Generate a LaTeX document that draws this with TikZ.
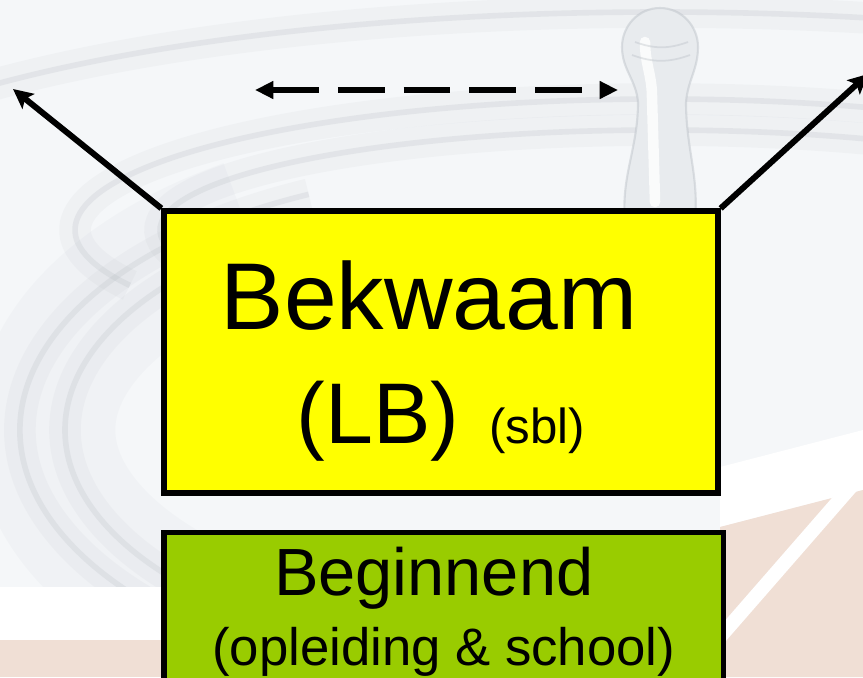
\documentclass[tikz,border=0pt]{standalone}
\usepackage{fontspec}
\setmainfont{Liberation Sans}
\usetikzlibrary{arrows.meta}

\tikzset{
  box/.style={draw=black,line width=1.5pt,inner sep=0pt},
  pointer/.style={draw=black,line width=1.7pt,-{Stealth[length=5.6pt,width=5.4pt,inset=1.2pt]}},
  spanpointer/.style={draw=black,line width=1.9pt,dash pattern=on 13.3pt off 5.4pt,
    {Triangle[length=5.2pt,width=4.8pt]}-{Triangle[length=5.2pt,width=4.8pt]}},
  ripplesoft/.style={draw=ripple,line width=9pt,opacity=0.09},
  ripplecore/.style={draw=ripple,line width=1.6pt,opacity=0.22},
}

\begin{document}
\begin{tikzpicture}[x=1cm,y=1cm]
\definecolor{bgbase}{HTML}{F5F7F9}
\definecolor{ripple}{HTML}{B4BAC1}
\definecolor{peach}{HTML}{F0DFD5}
\definecolor{drop}{HTML}{E8EBEE}
\definecolor{lbyellow}{HTML}{FFFF00}
\definecolor{startgreen}{HTML}{99CC00}
\useasboundingbox (0,0) rectangle (8.63,6.77);
\clip (0,0) rectangle (8.63,6.77);
% backdrop
\fill[bgbase] (0,0) rectangle (8.63,6.77);
\draw[ripple,line width=40pt,opacity=0.07] (5.20,2.47) ++(125:4.75 and 2.45) arc[start angle=125,end angle=225,x radius=4.75,y radius=2.45];
% ripples round the drop
\draw[ripplesoft] (6.60,4.47) ++(0:8.94 and 2.18) arc[start angle=0,end angle=180,x radius=8.94,y radius=2.18];
\draw[ripplecore] (6.60,4.47) ++(0:8.94 and 2.18) arc[start angle=0,end angle=180,x radius=8.94,y radius=2.18];
\draw[ripplesoft] (6.60,4.47) ++(0:5.85 and 1.31) arc[start angle=0,end angle=205,x radius=5.85,y radius=1.31];
\draw[ripplecore] (6.60,4.47) ++(0:5.85 and 1.31) arc[start angle=0,end angle=205,x radius=5.85,y radius=1.31];
\draw[ripplesoft] (6.60,4.47) ++(0:5.00 and 1.00) arc[start angle=0,end angle=195,x radius=5.00,y radius=1.00];
\draw[ripplecore] (6.60,4.47) ++(0:5.00 and 1.00) arc[start angle=0,end angle=195,x radius=5.00,y radius=1.00];
\draw[ripplesoft] (5.20,2.47) ++(115:5.00 and 2.60) arc[start angle=115,end angle=235,x radius=5.00,y radius=2.60];
\draw[ripplecore] (5.20,2.47) ++(115:5.00 and 2.60) arc[start angle=115,end angle=235,x radius=5.00,y radius=2.60];
\draw[ripplesoft] (5.20,2.47) ++(120:4.55 and 2.30) arc[start angle=120,end angle=228,x radius=4.55,y radius=2.30];
\draw[ripplecore] (5.20,2.47) ++(120:4.55 and 2.30) arc[start angle=120,end angle=228,x radius=4.55,y radius=2.30];
% the drop
\fill[drop] (6.25,4.55) to[out=95,in=-90] (6.38,5.75) to[out=95,in=-90] (6.22,6.30)
  to[out=90,in=180] (6.60,6.69) to[out=0,in=90] (6.98,6.30) to[out=-90,in=85] (6.86,5.75)
  to[out=-90,in=85] (6.95,4.55) -- cycle;
\draw[ripple,line width=0.6pt,opacity=0.4] (6.25,4.55) to[out=95,in=-90] (6.38,5.75) to[out=95,in=-90] (6.22,6.30)
  to[out=90,in=180] (6.60,6.69) to[out=0,in=90] (6.98,6.30) to[out=-90,in=85] (6.86,5.75)
  to[out=-90,in=85] (6.95,4.55);
\draw[white,line width=3pt,opacity=0.8,line cap=round] (6.55,4.75) -- (6.52,5.80) to[out=90,in=-90] (6.45,6.35);
\draw[ripple,line width=0.5pt,opacity=0.35] (6.35,6.35) to[out=-20,in=200] (6.88,6.35);
\draw[ripple,line width=0.5pt,opacity=0.35] (6.32,6.22) to[out=-20,in=200] (6.90,6.22);
% floor tint
\fill[white] (0,0.37) rectangle (1.70,0.90);
\fill[peach] (0,0) rectangle (1.70,0.37);
\fill[white] (7.20,1.50) -- (7.20,2.10) -- (8.63,2.47) -- (8.63,1.87) -- cycle;
\fill[peach] (7.20,0) -- (7.20,1.50) -- (8.63,1.87) -- (8.63,0) -- cycle;
\draw[white,line width=4pt] (7.20,0.40) -- (8.63,2.04);
% levels
\node[box,fill=lbyellow,minimum width=5.54cm,minimum height=2.82cm,align=center,text depth=0pt,
  font=\fontsize{27}{32.6}\selectfont] (bekwaam) at (4.41,3.25)
  {Bekwaam\hspace*{0.25em}\\\fontsize{24.5}{32.6}\selectfont(LB)\hspace{0.35em}{\fontsize{14}{15}\selectfont(sbl)}};
\node[box,fill=startgreen,anchor=north,minimum width=5.595cm,inner ysep=4pt,align=center,
  font=\fontsize{19}{20}\selectfont] (beginnend) at (4.4375,1.47)
  {Beginnend\hspace*{0.3em}\\\fontsize{15}{20}\selectfont(opleiding \& school)};
% arrows
\coordinate (farleft) at (0.13,5.88);
\coordinate (farright) at (8.68,6.03);
\coordinate (spanleft) at (2.55,5.87);
\coordinate (spanright) at (6.18,5.87);
\draw[pointer] (bekwaam.north west) -- (farleft);
\draw[pointer] (bekwaam.north east) -- (farright);
\draw[spanpointer] (spanleft) -- (spanright);
\end{tikzpicture}
\end{document}
